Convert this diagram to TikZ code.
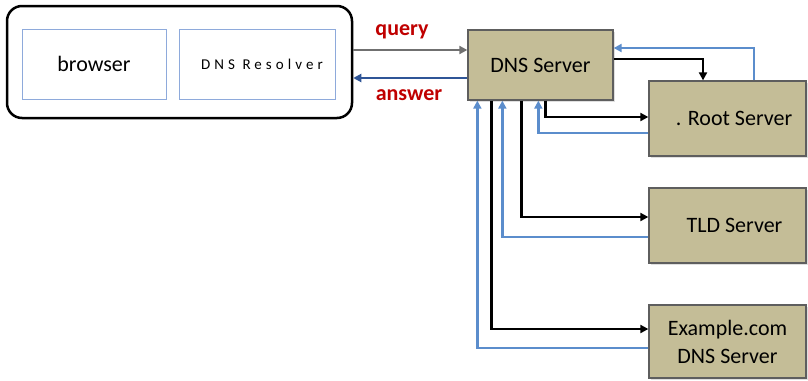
\documentclass[tikz,border=0pt]{standalone}
\usepackage{fontspec}
\setmainfont{Carlito}
\usetikzlibrary{arrows.meta,calc,shadows}
\definecolor{srvfill}{HTML}{C4BD97}
\definecolor{srvedge}{HTML}{5E5E5E}
\definecolor{boxblue}{HTML}{8EAADB}
\definecolor{linkblue}{HTML}{5B8DCC}
\definecolor{ansblue}{HTML}{2F5597}
\definecolor{qgray}{HTML}{707070}
\definecolor{lblred}{HTML}{C00000}
\tikzset{
  big/.style={font=\fontsize{22}{28}\selectfont},
  outerbox/.style={draw=black, line width=2.5pt, rounded corners=15pt, inner sep=0pt},
  appbox/.style={draw=boxblue, line width=1pt, minimum height=70pt, inner sep=0pt},
  server/.style={draw=srvedge, line width=1.3pt, fill=srvfill, inner sep=0pt,
    drop shadow={opacity=0.25, shadow xshift=1.5pt, shadow yshift=-1.5pt}, big, align=center},
  tip/.style={-{Triangle[length=8pt,width=8pt]}},
  blk/.style={tip, draw=black, line width=2.3pt},
  blu/.style={tip, draw=linkblue, line width=2.4pt},
  lbl/.style={text=lblred, font=\fontsize{22}{28}\selectfont\bfseries, anchor=base},
}
\begin{document}
\begin{tikzpicture}[x=1pt,y=-1pt]
\useasboundingbox[fill=white] (0,0) rectangle (808,380);

% client host with its two components
\node[outerbox, minimum width=345pt, minimum height=112pt] (outer) at (179.5,62) {};
\node[appbox, minimum width=144pt, big] (browser) at (94,64) {browser};
\node[appbox, minimum width=156pt] (resolverbox) at (257,64) {};
\node[font=\fontsize{15}{17}\selectfont\addfontfeature{LetterSpace=27}] (resolver) at (262,64) {DNS Resolver};

% servers
\node[server, minimum width=145pt, minimum height=70pt] (dns) at (540.5,65) {DNS Server};
\node[server, minimum width=157pt, minimum height=75pt] (root) at (727.5,118.5) {\hspace*{13pt}. Root Server};
\node[server, minimum width=157pt, minimum height=75pt] (tld) at (727.5,225.5) {\hspace*{14pt}TLD Server};
\node[server, minimum width=157pt, minimum height=73pt] (example) at (727.5,341.5) {Example.com\\DNS Server};

% query and answer between host and DNS server
\draw[tip, draw=qgray, line width=2.6pt] ([yshift=12]outer.east) -- ([yshift=12]outer.east -| dns.west);
\draw[tip, draw=ansblue, line width=2.6pt] ([yshift=-16]outer.east -| dns.west) -- ([yshift=-16]outer.east);
\node[lbl] (qlbl) at (402,35) {query};
\node[lbl] (albl) at (409,100) {answer};

% root server exchange
\draw[blk] ([yshift=6]dns.east) -| ([xshift=-24.5]root.north);
\draw[blu] ([xshift=26.5]root.north) |- ([yshift=17]dns.east);
\draw[blk] ([xshift=78]dns.south west) |- ([yshift=1.5]root.west);
\draw[blu] ([yshift=-14.5]root.west) -| ([xshift=71]dns.south west);

% TLD server exchange
\draw[blk] ([xshift=54]dns.south west) |- ([yshift=8.5]tld.west);
\draw[blu] ([yshift=-11.5]tld.west) -| ([xshift=35]dns.south west);

% authoritative server exchange
\draw[blk] ([xshift=24]dns.south west) |- ([yshift=12.5]example.west);
\draw[blu] ([yshift=-6.5]example.west) -| ([xshift=10]dns.south west);
\end{tikzpicture}
\end{document}
